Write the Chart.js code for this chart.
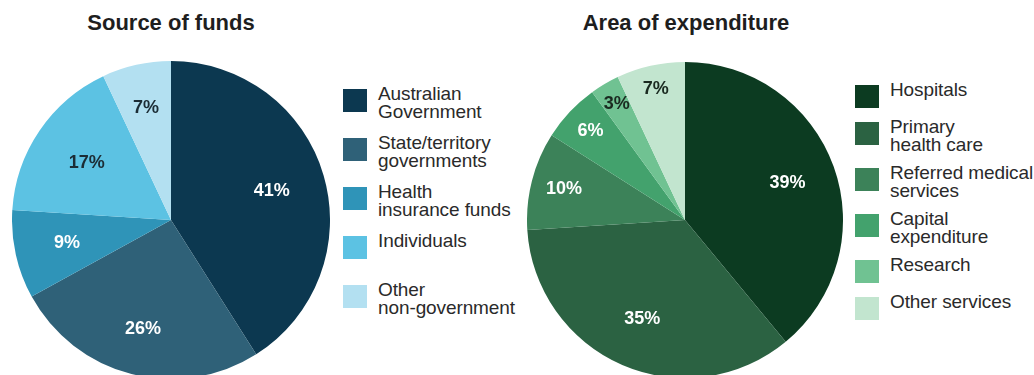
<!DOCTYPE html>
<html>
<head>
<meta charset="utf-8">
<script src="https://cdn.jsdelivr.net/npm/chart.js@4.4.1/dist/chart.umd.min.js"></script>
<style>
  html, body { margin: 0; padding: 0; background: #fff; overflow: hidden; }
  body { width: 1034px; height: 375px; position: relative; font-family: "Liberation Sans", Arial, sans-serif; color: #222; }
  .title { position: absolute; top: 10px; width: 300px; text-align: center; font-weight: bold; font-size: 22px; color: #1e1e1e; }
  canvas { position: absolute; }
  .legend { position: absolute; }
  .item { display: flex; align-items: flex-start; }
  .box { width: 24px; height: 23px; flex: none; margin-top: 4px; }
  .txt { margin-left: 11px; font-size: 19px; line-height: 18px; color: #2a2a2a; letter-spacing: -0.1px; }
</style>
</head>
<body>
<div class="title" style="left:21px">Source of funds</div>
<div class="title" style="left:536px">Area of expenditure</div>
<canvas id="funds" width="318" height="318" style="left:12px;top:61px"></canvas>
<canvas id="spend" width="316" height="316" style="left:527px;top:62px"></canvas>
<div class="legend" id="fundsLegend" style="left:343px;top:85px"></div>
<div class="legend" id="spendLegend" style="left:855px;top:81px"></div>
<script>
// source of funds
const fundLabels = [
  ["Australian", "Government"],
  ["State/territory", "governments"],
  ["Health", "insurance funds"],
  ["Individuals"],
  ["Other", "non-government"]
];
const fundShares = [41, 26, 9, 17, 7];
const fundColors = ["#0c3850", "#2f6178", "#2f94b8", "#5cc2e3", "#b3e0f1"];

// area of expenditure
const spendLabels = [
  ["Hospitals"],
  ["Primary", "health care"],
  ["Referred medical", "services"],
  ["Capital", "expenditure"],
  ["Research"],
  ["Other services"]
];
const spendShares = [39, 35, 10, 6, 3, 7];
const spendColors = ["#0c3b21", "#2b6242", "#3c8259", "#43a26d", "#70c292", "#c2e5cf"];

// percentage text inside each slice
const sliceLabels = {
  id: 'sliceLabels',
  afterDatasetsDraw(chart, args, opts) {
    const ctx = chart.ctx;
    const arcs = chart.getDatasetMeta(0).data;
    const values = chart.data.datasets[0].data;
    ctx.save();
    ctx.font = 'bold 18px "Liberation Sans", Arial, sans-serif';
    ctx.textAlign = 'center';
    ctx.textBaseline = 'middle';
    arcs.forEach((arc, i) => {
      const p = arc.getProps(['x', 'y', 'startAngle', 'endAngle', 'outerRadius'], true);
      const mid = (p.startAngle + p.endAngle) / 2;
      const r = p.outerRadius * opts.radius[i];
      ctx.fillStyle = opts.colors[i];
      ctx.fillText(values[i] + '%', p.x + Math.cos(mid) * r, p.y + Math.sin(mid) * r);
    });
    ctx.restore();
  }
};

function pie(id, labels, data, colors, labelOpts) {
  return new Chart(document.getElementById(id), {
    type: 'pie',
    data: {
      labels: labels,
      datasets: [{
        data: data,
        backgroundColor: colors,
        borderWidth: 0,
        hoverOffset: 0
      }]
    },
    options: {
      responsive: false,
      animation: false,
      layout: { padding: 0 },
      events: [],
      plugins: {
        legend: { display: false },
        tooltip: { enabled: false },
        sliceLabels: labelOpts
      }
    },
    plugins: [sliceLabels]
  });
}

function legend(id, labels, colors, step, gap) {
  const el = document.getElementById(id);
  labels.forEach((lines, i) => {
    const item = document.createElement('div');
    item.className = 'item';
    if (step) item.style.height = step + 'px';
    else item.style.marginBottom = gap + 'px';
    item.innerHTML = '<div class="box" style="background:' + colors[i] + '"></div>' +
      '<div class="txt">' + lines.join('<br>') + '</div>';
    el.appendChild(item);
  });
}

pie('funds', fundLabels, fundShares, fundColors, {
  radius: [0.66, 0.71, 0.67, 0.64, 0.72],
  colors: ['#fff', '#fff', '#fff', '#1c2d36', '#1c2d36']
});
pie('spend', spendLabels, spendShares, spendColors, {
  radius: [0.69, 0.68, 0.79, 0.82, 0.85, 0.85],
  colors: ['#fff', '#fff', '#fff', '#fff', '#1a2a20', '#1a2a20']
});

legend('fundsLegend', fundLabels, fundColors, 49, 0);
legend('spendLegend', spendLabels, spendColors, 0, 10);
</script>
</body>
</html>
